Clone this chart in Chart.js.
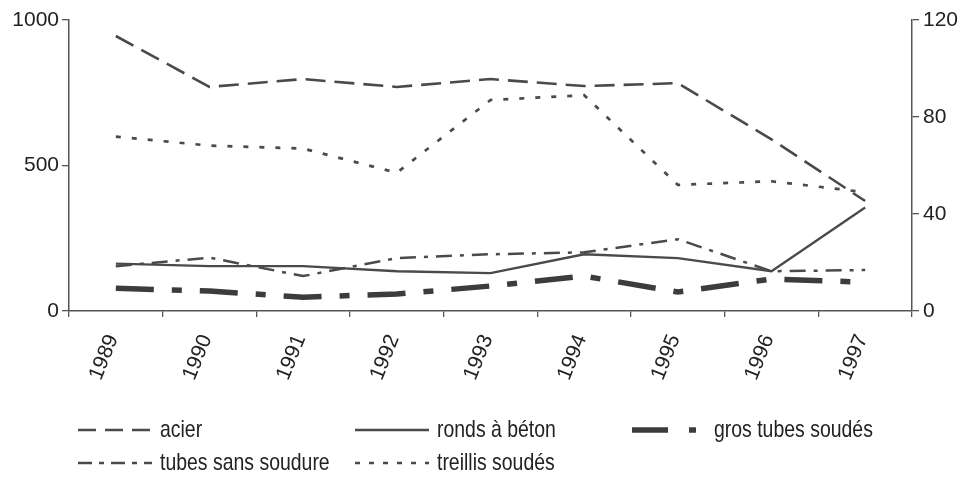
<!DOCTYPE html>
<html>
<head>
<meta charset="utf-8">
<script src="https://cdn.jsdelivr.net/npm/chart.js@4/dist/chart.umd.min.js"></script>
<style>
  html, body { margin: 0; padding: 0; background: #fff; }
  #wrap { width: 970px; height: 477px; position: relative; }
</style>
</head>
<body>
<div id="wrap"><canvas id="myChart"></canvas></div>
<script>
const years = ["1989", "1990", "1991", "1992", "1993", "1994", "1995", "1996", "1997"];
// left axis
const acier = [945, 770, 797, 770, 797, 773, 783, 590, 378];
// right axis
const rondsBeton = [19.5, 18.5, 18.5, 16.4, 15.6, 23.4, 21.8, 16.4, 42.7];
const grosTubes = [9.4, 8.2, 5.7, 7.0, 10.3, 14.4, 7.8, 13.2, 11.9];
const tubesSansSoudure = [18.5, 22, 14.4, 21.8, 23.4, 24.2, 29.6, 16.4, 16.9];
const treillis = [71.9, 68.2, 67, 57, 87, 89, 52, 53.5, 49];
const leftTicks = [0, 500, 1000];
const rightTicks = [0, 40, 80, 120];

const ink = "#4a4a4a";
const textColor = "#222";
const tickFont = { family: "'Liberation Sans', Arial, sans-serif", size: 21 };

// where each legend entry sits (sample start x, row y)
const legendPos = [
  { x: 78, y: 430 },   // acier
  { x: 355, y: 430 },  // ronds a beton
  { x: 632, y: 430 },  // gros tubes soudes
  { x: 78, y: 463 },   // tubes sans soudure
  { x: 355, y: 463 },  // treillis soudes
];

// legend text is a condensed face in the source; squeeze Liberation Sans
const legendSqueeze = 0.81;

const legendPlugin = {
  id: "bottomLegend",
  afterDraw(chart) {
    const c = chart.ctx;
    chart.data.datasets.forEach((ds, i) => {
      const p = legendPos[i];
      c.save();
      c.strokeStyle = ds.borderColor;
      c.lineWidth = ds.borderWidth;
      c.setLineDash(ds.legendDash || ds.borderDash || []);
      c.beginPath();
      c.moveTo(p.x, p.y);
      c.lineTo(p.x + 74, p.y);
      c.stroke();
      c.setLineDash([]);
      c.fillStyle = textColor;
      c.font = "24px 'Liberation Sans', Arial, sans-serif";
      c.textBaseline = "middle";
      c.translate(p.x + 82, p.y);
      c.scale(legendSqueeze, 1);
      c.fillText(ds.label, 0, 0);
      c.restore();
    });
  },
};

const ctx = document.getElementById("myChart").getContext("2d");

const myChart = new Chart(ctx, {
  type: "line",
  data: {
    labels: years,
    datasets: [
      {
        label: "acier",
        data: acier,
        yAxisID: "y",
        borderColor: ink,
        borderWidth: 2.6,
        borderDash: [20, 9],
        legendDash: [18, 9],
      },
      {
        label: "ronds à béton",
        data: rondsBeton,
        yAxisID: "y1",
        borderColor: ink,
        borderWidth: 2.3,
      },
      {
        label: "gros tubes soudés",
        data: grosTubes,
        yAxisID: "y1",
        borderColor: "#3c3c3c",
        borderWidth: 5.5,
        borderDash: [38, 18, 10, 18],
        legendDash: [36, 21, 7, 30],
      },
      {
        label: "tubes sans soudure",
        data: tubesSansSoudure,
        yAxisID: "y1",
        borderColor: ink,
        borderWidth: 2.5,
        borderDash: [16, 8, 4, 8],
        legendDash: [14, 7, 5, 7],
      },
      {
        label: "treillis soudés",
        data: treillis,
        yAxisID: "y1",
        borderColor: ink,
        borderWidth: 2.7,
        borderDash: [5, 11],
        legendDash: [5, 9],
      },
    ],
  },
  options: {
    responsive: true,
    maintainAspectRatio: false,
    animation: false,
    layout: { padding: { top: 20, left: 0, right: 0, bottom: 0 } },
    elements: {
      point: { radius: 0 },
      line: { tension: 0, borderCapStyle: "butt", fill: false },
    },
    plugins: {
      legend: { display: false },
      tooltip: { enabled: false },
    },
    scales: {
      x: {
        offset: true,
        grid: { offset: true, drawOnChartArea: false, tickLength: 6, color: "#555", lineWidth: 1.3 },
        border: { color: "#555", width: 1.5 },
        ticks: {
          color: textColor,
          font: tickFont,
          minRotation: 68,
          maxRotation: 68,
          padding: 14,
          labelOffset: -3,
        },
        afterFit(scale) { scale.height = 166; },
      },
      y: {
        position: "left",
        min: 0,
        max: 1000,
        afterBuildTicks(scale) { scale.ticks = leftTicks.map((v) => ({ value: v })); },
        grid: { drawOnChartArea: false, tickLength: 7, color: "#555", lineWidth: 1.3 },
        border: { color: "#555", width: 1.5 },
        ticks: {
          color: textColor,
          font: tickFont,
          padding: 3,
          callback: (v) => String(v),
        },
        afterFit(scale) { scale.width = 69; },
      },
      y1: {
        position: "right",
        min: 0,
        max: 120,
        afterBuildTicks(scale) { scale.ticks = rightTicks.map((v) => ({ value: v })); },
        grid: { drawOnChartArea: false, tickLength: 7, color: "#555", lineWidth: 1.3 },
        border: { color: "#555", width: 1.5 },
        ticks: {
          color: textColor,
          font: tickFont,
          padding: 4,
          callback: (v) => String(v),
        },
        afterFit(scale) { scale.width = 58; },
      },
    },
  },
  plugins: [legendPlugin],
});
</script>
</body>
</html>
